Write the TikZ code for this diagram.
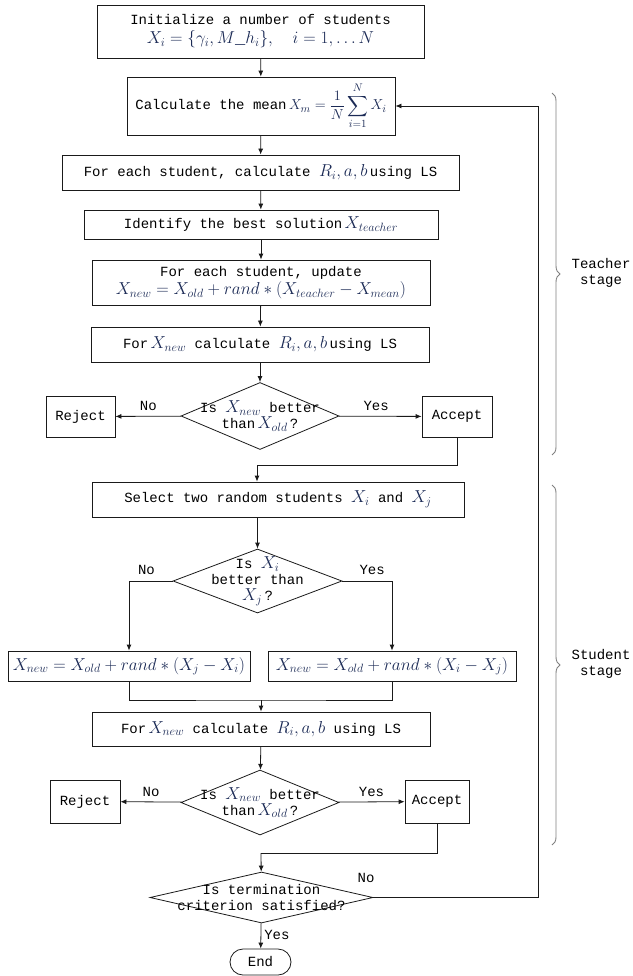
\documentclass[tikz,border=0pt]{standalone}
\usepackage{amsmath}
\usepackage{fontspec}
\setmonofont{Liberation Mono}
\usetikzlibrary{arrows.meta,positioning,shapes.geometric,decorations.pathreplacing}
\definecolor{ink}{HTML}{1A1A1A}
\definecolor{mathc}{HTML}{1B2A55}
\definecolor{brc}{HTML}{808080}
\newcommand{\mx}[1]{{\fontsize{17}{18}\selectfont\color{mathc}$#1$}}
\newcommand{\mxs}[1]{{\fontsize{15}{16}\selectfont\color{mathc}$#1$}}
\tikzset{box/.style={draw=ink,fill=white,line width=0.8pt,align=center,
  font=\ttfamily\fontsize{14}{17}\selectfont,inner sep=2pt},
  decision/.style={draw=ink,diamond,line width=0.8pt,inner sep=0pt},
  dtext/.style={align=center,font=\ttfamily\fontsize{14}{16}\selectfont,inner sep=0pt},
  lbl/.style={font=\ttfamily\fontsize{14}{17}\selectfont,inner sep=1pt},
  arrow/.style={-{Latex[length=6pt,width=5pt]},line width=0.8pt,draw=ink},
  line/.style={line width=0.8pt,draw=ink},
  stagebrace/.style={decorate,decoration={brace,amplitude=8pt},draw=brc,line width=0.9pt}}

\begin{document}
\begin{tikzpicture}[x=1pt,y=-1pt]
\useasboundingbox (0,0) rectangle (632,976);
% teacher phase
\node[box,minimum width=327,minimum height=53] (init) at (260.5,31.5)
  {Initialize a number of students\\[2pt]\mx{X_i=\{\gamma_i,M\_h_i\},\quad i=1,\ldots N}};
\node[box,minimum width=268,minimum height=58] (mean) at (261,106)
  {Calculate the mean\,\mxs{X_m=\dfrac{1}{N}\displaystyle\sum_{i=1}^{N}X_i}};
\node[box,minimum width=397,minimum height=35] (each) at (260.5,172.5)
  {For each student, calculate \mx{R_i,a,b}\,using LS};
\node[box,minimum width=354,minimum height=29] (best) at (261,224.5)
  {Identify the best solution\,\mx{X_{teacher}}};
\node[box,minimum width=338,minimum height=45,inner sep=0pt] (upd) at (261,282.5)
  {For each student, update\\[1pt]\mx{X_{new}=X_{old}+rand\ast(X_{teacher}-X_{mean})}};
\node[box,minimum width=338,minimum height=35] (calc1) at (260,344.5)
  {For\,\mx{X_{new}} calculate \mx{R_i,a,b}\,using LS};
\node[decision,minimum width=158,minimum height=67] (dec1) at (260,416) {};
\node[dtext] at (dec1) {Is \mx{X_{new}} better\\than\,\mx{X_{old}}\,?};
\node[box,minimum width=69,minimum height=41] (rej1) at (80.5,416.5) {Reject};
\node[box,minimum width=70,minimum height=41] (acc1) at (457,416.5) {Accept};
% student phase
\node[box,minimum width=372,minimum height=35] (sel) at (278,499.5)
  {Select two random students \mx{X_i} and \mx{X_j}};
\node[decision,minimum width=169,minimum height=64] (dec2) at (257.5,581) {};
\node[dtext] at (dec2) {Is \mx{X_i}\\better than\\\mx{X_j}\,?};
\node[box,minimum width=242,minimum height=30,inner sep=0pt] (updl) at (129,666)
  {\mx{X_{new}=X_{old}+rand\ast(X_j-X_i)}};
\node[box,minimum width=248,minimum height=30,inner sep=0pt] (updr) at (392,666)
  {\mx{X_{new}=X_{old}+rand\ast(X_i-X_j)}};
\node[box,minimum width=338,minimum height=34] (calc2) at (261,729)
  {For\,\mx{X_{new}} calculate \mx{R_i,a,b} using LS};
\node[decision,minimum width=158,minimum height=65] (dec3) at (260,802.5) {};
\node[dtext] at (dec3) {Is \mx{X_{new}} better\\than\,\mx{X_{old}}\,?};
\node[box,minimum width=70,minimum height=43] (rej2) at (85,801.5) {Reject};
\node[box,minimum width=64,minimum height=43] (acc2) at (437,801.5) {Accept};
\node[decision,minimum width=223,minimum height=51] (term) at (261.5,897.5) {};
\node[dtext] at (term) {Is termination\\criterion satisfied?};
\node[box,rounded corners=13pt,minimum width=61,minimum height=26] (end) at (260.5,962) {End};
% joints
\coordinate (j1) at (257,465);
\coordinate (j2) at (261,700);
\coordinate (j3) at (261,853);
\coordinate (back) at (538,897.5);
% connectors
\draw[arrow] (init)--(mean);\draw[arrow] (mean)--(each);\draw[arrow] (each)--(best);
\draw[arrow] (best)--(upd);\draw[arrow] (upd)--(calc1);\draw[arrow] (calc1)--(dec1);
\draw[arrow] (dec1)--(rej1) node[lbl,pos=0.5,above=4pt] {No};
\draw[arrow] (dec1)--(acc1) node[lbl,pos=0.45,above=4pt] {Yes};
\draw[line] (acc1.south) |- (j1);
\draw[arrow] (j1)--(j1 |- sel.north);
\draw[arrow] (sel.south -| dec2.north)--(dec2.north);
\draw[arrow] (dec2.west) -| (updl.north) node[lbl,pos=0.3,above=5pt] {No};
\draw[arrow] (dec2.east) -| (updr.north) node[lbl,pos=0.3,above=5pt] {Yes};
\draw[line] (updl.south) |- (j2) -| (updr.south);
\draw[arrow] (j2)--(calc2);
\draw[arrow] (calc2)--(dec3);
\draw[arrow] (dec3)--(rej2) node[lbl,pos=0.5,above=4pt] {No};
\draw[arrow] (dec3)--(acc2) node[lbl,pos=0.5,above=4pt] {Yes};
\draw[line] (acc2.south) |- (j3);
\draw[arrow] (j3)--(term);
\draw[arrow] (term)--(end) node[lbl,pos=0.45,right=2pt] {Yes};
\draw[arrow] (term.east)--(back) |- (mean.east);
\node[lbl] at (366,878) {No};
% stage braces
\draw[stagebrace] (552,93)--(552,455);
\draw[stagebrace] (552,485)--(552,845);
\node[lbl,align=center,font=\ttfamily\fontsize{14}{16}\selectfont] (tstage) at (601,273) {Teacher\\stage};
\node[lbl,align=center,font=\ttfamily\fontsize{14}{16}\selectfont] (sstage) at (601,664) {Student\\stage};
\end{tikzpicture}
\end{document}
